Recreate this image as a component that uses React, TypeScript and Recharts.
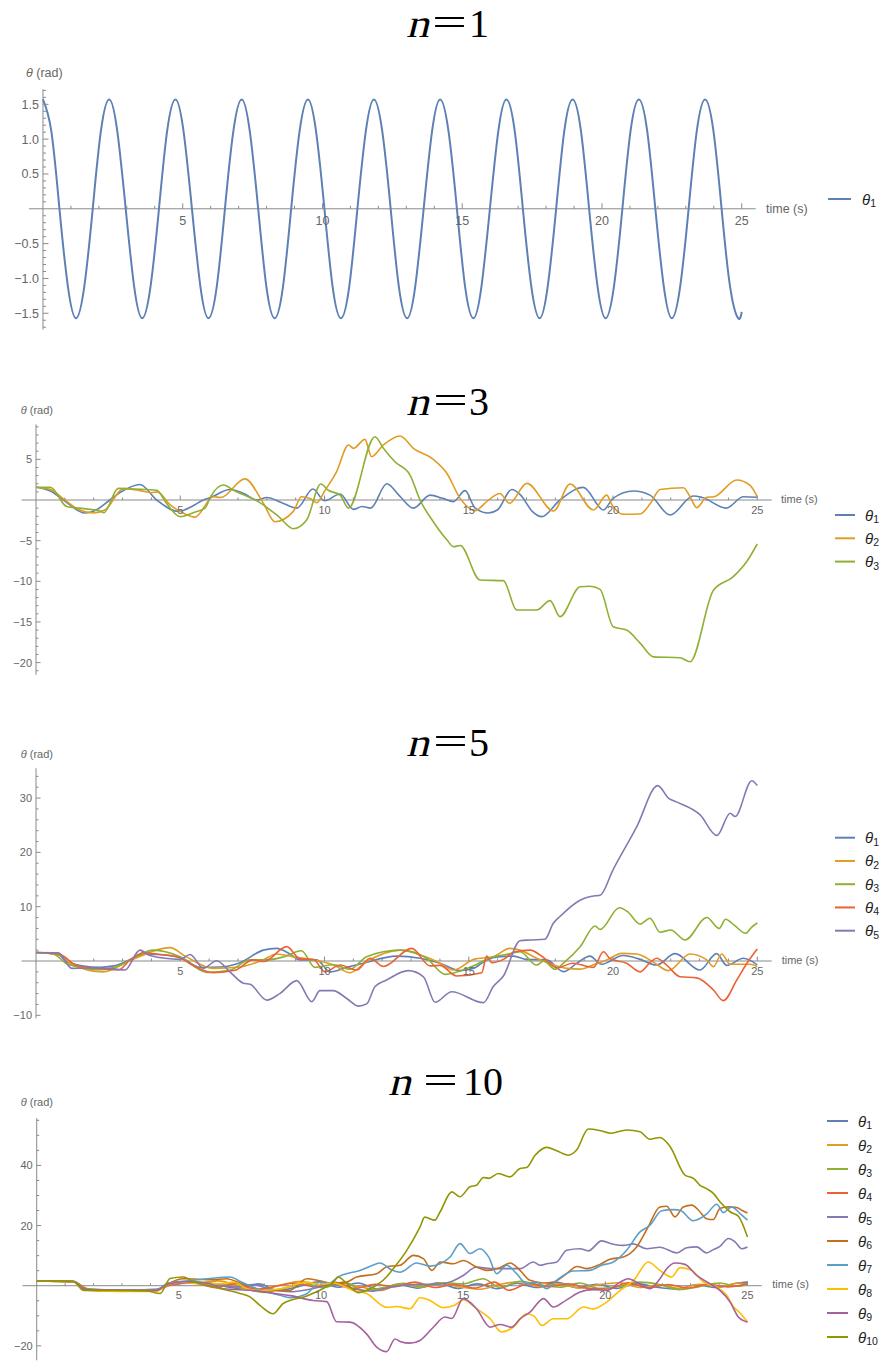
import React from "react";
import { LineChart, Line, XAxis, YAxis, ReferenceLine, ReferenceDot } from "recharts";

type Pt = [number, number];

const AXIS = "#8a8a8a";
const LABEL = "#666666";
const SANS = "'Liberation Sans', Arial, sans-serif";
const SERIF = "'Liberation Serif', 'Times New Roman', serif";

// Mathematica default plot palette
const COLORS = ["#5e81b5", "#e19c24", "#8fb032", "#eb6235", "#8778b3", "#c56e1a", "#5d9ec7", "#ffbf00", "#a5609d", "#929600"];
const SUBSCRIPTS = ["1", "2", "3", "4", "5", "6", "7", "8", "9", "10"];

const X_MAJOR = [5, 10, 15, 20, 25];
const X_MAJOR_LABELS = ["5", "10", "15", "20", "25"];

// ---- n = 1 -------------------------------------------------------------
const n1Time = [0, 0.3, 0.59, 0.89, 1.18, 1.48, 1.78, 2.07, 2.37, 2.66, 2.96, 3.26, 3.55, 3.85, 4.15, 4.44, 4.74, 5.03, 5.33, 5.63, 5.92, 6.22, 6.51, 6.81, 7.11, 7.4, 7.7, 7.99, 8.29, 8.59, 8.88, 9.18, 9.48, 9.77, 10.07, 10.36, 10.66, 10.96, 11.25, 11.55, 11.84, 12.14, 12.44, 12.73, 13.03, 13.32, 13.62, 13.92, 14.21, 14.51, 14.81, 15.1, 15.4, 15.69, 15.99, 16.29, 16.58, 16.88, 17.17, 17.47, 17.77, 18.06, 18.36, 18.65, 18.95, 19.25, 19.54, 19.84, 20.13, 20.43, 20.73, 21.02, 21.32, 21.62, 21.91, 22.21, 22.5, 22.8, 23.1, 23.39, 23.69, 23.99, 24.28, 24.58, 24.87, 25];
const n1Theta1 = [
  1.57, 1.11, 0, -1.11, -1.57, -1.11, 0, 1.11,
  1.57, 1.11, 0, -1.11, -1.57, -1.11, 0, 1.11,
  1.57, 1.11, 0, -1.11, -1.57, -1.11, 0, 1.11,
  1.57, 1.11, 0, -1.11, -1.57, -1.11, 0, 1.11,
  1.57, 1.11, 0, -1.11, -1.57, -1.11, 0, 1.11,
  1.57, 1.11, 0, -1.11, -1.57, -1.11, 0, 1.11,
  1.57, 1.11, 0, -1.11, -1.57, -1.11, 0, 1.11,
  1.57, 1.11, 0, -1.11, -1.57, -1.11, 0, 1.11,
  1.57, 1.11, 0, -1.11, -1.57, -1.11, 0, 1.11,
  1.57, 1.11, 0, -1.11, -1.57, -1.11, 0, 1.11,
  1.57, 1.11, 0, -1.11, -1.57, -1.48,
];
const n1YMajor = [-1.5, -1, -0.5, 0.5, 1, 1.5];
const n1YLabels = ["\u22121.5", "\u22121.0", "\u22120.5", "0.5", "1.0", "1.5"];

// ---- n = 3 -------------------------------------------------------------
const n3Theta1: Pt[] = [[0, 1.57], [0.5, 1.1], [0.95, 0], [1.7, -1.6], [2.1, -1.2], [2.56, 0], [3.0, 1.1], [3.6, 1.9], [4.18, 0], [4.93, -1.4], [5.4, -0.8], [5.8, 0], [6.05, 0.3], [6.72, 1.3], [7.2, 0.8], [7.65, 0], [8.0, 0.3], [8.5, -0.3], [9.04, -1.0], [9.6, 1.35], [10.0, -0.1], [10.54, 0.74], [11.0, -1.15], [11.3, -0.8], [11.6, -1.0], [12.16, 2.0], [12.6, 0.5], [13.08, -1.0], [13.66, 0.6], [14.1, 0.2], [14.47, -0.2], [14.87, 1.15], [15.22, -1.0], [15.68, -1.6], [16.0, -1.2], [16.49, 1.3], [16.8, 0.6], [17.2, -1.4], [17.53, -2.05], [18.16, 0], [18.97, 1.56], [19.67, -1.23], [20.0, 0.2], [20.71, 1.1], [21.28, 0.6], [21.98, -1.85], [22.78, 0.5], [23.1, 0.3], [23.92, -1.0], [24.52, 0.4], [25, 0.33]];
const n3Theta2: Pt[] = [[0, 1.57], [0.5, 1.3], [1.0, 0], [1.5, -1.2], [2.0, -1.6], [2.4, -1.2], [3.03, 1.4], [3.6, 1.15], [4.0, 0.9], [4.2, 1.0], [4.65, -0.6], [5.1, -1.6], [5.51, -2.1], [6.15, 0.4], [6.4, 0.3], [7.24, 2.6], [7.88, -0.4], [8.28, -2.67], [8.92, -1.4], [9.2, 0.4], [9.5, 0.2], [9.73, -0.33], [10.02, 1.2], [10.42, 3.5], [10.83, 6.77], [11.0, 6.35], [11.4, 7.46], [11.63, 5.33], [12.04, 6.77], [12.62, 7.87], [13.08, 6.35], [13.77, 5.0], [14.24, 3.3], [14.7, 0.2], [15.22, -1.3], [15.65, -0.1], [16.08, 0.8], [16.41, -0.4], [17.01, 2.05], [17.94, -1.35], [18.51, 1.97], [19.32, -1.23], [19.78, 0.6], [19.95, -0.5], [20.36, -1.76], [20.94, -1.72], [21.3, -0.4], [21.63, 1.3], [22.44, 1.5], [22.67, 0.4], [22.9, -0.94], [23.25, 0.33], [23.5, 0.4], [24.29, 2.46], [24.75, 1.8], [25, 0.4]];
const n3Theta3: Pt[] = [[0, 1.57], [0.5, 1.55], [1.06, -0.8], [1.5, -1.0], [2.22, -1.35], [2.35, -1.56], [2.85, 1.43], [3.4, 1.35], [4.18, 1.2], [4.52, -0.4], [4.99, -2.05], [5.5, -1.5], [5.86, -1.0], [6.05, 0.4], [6.49, 1.85], [6.85, 1.2], [7.76, -0.33], [8.4, -2.0], [8.92, -3.53], [9.38, -2.46], [9.87, 1.97], [10.13, 1.2], [10.54, 0.6], [10.83, -1.0], [11.75, 7.79], [12.04, 6.36], [12.44, 4.7], [12.96, 3.1], [13.31, 0], [13.77, -2.67], [14.24, -4.9], [14.47, -5.74], [14.7, -5.6], [15.39, -9.84], [16.2, -9.92], [16.66, -13.53], [17.35, -13.53], [17.82, -12.38], [18.16, -14.35], [18.86, -10.66], [19.2, -10.6], [19.55, -11], [20.01, -15.6], [20.47, -16], [20.94, -17.6], [21.4, -19.3], [22.32, -19.4], [22.67, -19.9], [23.48, -11.1], [24.17, -9.43], [24.63, -7.6], [25, -5.41]];
const n3YMajor = [-20, -15, -10, -5, 5];
const n3YLabels = ["\u221220", "\u221215", "\u221210", "\u22125", "5"];

// ---- n = 5 -------------------------------------------------------------
const n5Theta1: Pt[] = [[0, 1.57], [0.8, 1.1], [1.06, -0.2], [2.22, -1.17], [2.7, -0.9], [3.84, 1.3], [4.99, 0.7], [5.68, -1.17], [6.38, -1.1], [7.07, -0.3], [7.88, 2.0], [8.34, 2.33], [8.8, 1.3], [9.15, 0.2], [9.73, 0.2], [10.19, -2.0], [10.77, -1.17], [11.34, -0.4], [12.5, 0.9], [13.31, 0.5], [14.0, -0.4], [14.7, -1.78], [15.17, -1.35], [15.62, 0.2], [16.08, 0.8], [16.55, 0.9], [17.0, 0.3], [17.7, 0.2], [18.28, -1.96], [18.75, -0.4], [19.2, 0.9], [19.6, -0.6], [20.35, 1.0], [20.94, 0.3], [21.51, -0.74], [22.15, 1.35], [23.01, -1.66], [23.59, 1.35], [23.94, -0.8], [24.52, 0.5], [25, -0.7]];
const n5Theta2: Pt[] = [[0, 1.57], [0.8, 1.2], [1.2, -0.5], [2.33, -2.0], [3.3, 0.2], [4.64, 2.46], [5.2, 0.8], [6.15, -1.35], [7.07, -1.1], [7.88, 0.2], [8.34, 1.3], [8.9, 0.8], [9.61, 0.2], [10.3, -0.7], [10.88, -2.15], [11.46, -0.1], [12.62, 2.0], [13.43, 0.9], [14.0, -0.4], [14.47, -1.66], [15.17, 0.3], [15.85, 0.8], [16.43, 2.33], [16.78, 2.0], [17.35, 0.5], [17.93, -0.7], [18.4, -1.35], [18.86, -1.5], [19.32, -0.7], [19.78, 0.2], [20.3, 1.4], [20.82, 1.3], [21.4, -0.2], [21.92, -1.78], [22.67, 1.3], [23.25, 0.2], [23.48, -1.04], [23.77, 1.3], [24.06, -0.6], [24.75, -0.6], [25, -1.04]];
const n5Theta3: Pt[] = [[0, 1.57], [0.6, 1.3], [1.1, -0.6], [2.22, -1.6], [3.0, -0.6], [3.5, 0.9], [4.07, 2.0], [4.99, 0.8], [5.92, -2.1], [6.72, -1.7], [7.42, 0.2], [8.0, 0.2], [8.6, 0.8], [9.2, 1.9], [9.67, -1.17], [10.3, -0.7], [10.88, -1.53], [11.46, 0.8], [12.62, 2.0], [13.54, 0.5], [14.18, -2.46], [15.04, -1.17], [15.85, 0.8], [16.3, 1.2], [16.78, 1.7], [17.35, -0.74], [17.6, 0], [17.99, -1.53], [18.3, -0.3], [18.86, 2.64], [19.38, 6.45], [19.55, 5.8], [20.22, 9.8], [20.5, 9.1], [20.94, 6.8], [21.28, 7.86], [21.63, 5.3], [22.0, 5.7], [22.5, 3.87], [23.25, 8.0], [23.68, 6.0], [23.9, 7.7], [24.2, 6.6], [24.6, 5.1], [24.8, 6.2], [25, 7.0]];
const n5Theta4: Pt[] = [[0, 1.57], [0.8, 1.3], [1.4, -0.8], [2.0, -1.3], [2.85, -1.66], [3.26, 0.2], [3.72, 1.53], [4.3, 1.2], [4.88, 0.8], [5.57, -1.17], [6.15, -2.15], [6.9, -1.7], [7.53, 0.2], [7.9, -0.1], [8.69, 2.64], [9.15, 0.4], [9.61, 0.3], [10.02, -2.0], [10.54, -0.74], [11.11, -1.66], [11.58, 0.5], [12.04, -1.0], [13.02, 2.33], [13.66, -0.9], [14.0, -0.8], [14.58, -2.76], [15.45, -2.15], [15.62, 0.9], [15.8, -0.3], [16.2, 0.3], [16.6, 1.7], [17.12, 2.0], [17.6, 0.6], [18.05, -1.3], [18.6, -0.4], [19.32, -1.17], [19.67, 1.7], [19.9, 0.4], [20.47, -0.4], [20.94, -2.0], [21.3, -0.2], [21.51, 0.5], [21.86, -0.74], [22.32, -2.9], [22.9, -3.1], [23.48, -5.34], [23.82, -7.3], [24.29, -3.5], [24.63, -0.5], [25, 2.2]];
const n5Theta5: Pt[] = [[0, 1.57], [0.77, 1.53], [1.24, -1.35], [1.75, -1.3], [2.56, -1.35], [3.08, -1.66], [3.6, 2.0], [3.95, 1.0], [4.99, 0.3], [5.34, 1.2], [5.8, -1.35], [6.26, 0.06], [6.72, -2.0], [7.19, -4.1], [7.42, -4.3], [8.0, -7.2], [8.46, -5.95], [9.04, -3.62], [9.56, -7.5], [9.84, -5.46], [10.3, -5.46], [10.77, -6.9], [11.17, -8.3], [11.46, -7.9], [11.75, -4.7], [12.15, -3.5], [12.9, -1.78], [13.43, -2.9], [13.83, -7.6], [14.41, -5.65], [15.51, -7.67], [15.85, -4.7], [16.2, -2.76], [16.78, 3.74], [17.12, 3.87], [17.64, 4.0], [17.93, 6.94], [18.16, 8.2], [18.86, 11.2], [19.38, 12.0], [19.55, 12.1], [20.0, 16.8], [20.82, 24.7], [21.55, 32.3], [21.92, 30.0], [22.2, 29.3], [23.02, 26.9], [23.6, 23.1], [24.06, 27.2], [24.23, 26.6], [24.81, 33.2], [25, 32.3]];
const n5YMajor = [-10, 10, 20, 30];
const n5YLabels = ["\u221210", "10", "20", "30"];

// ---- n = 10 ------------------------------------------------------------
const n10Theta1: Pt[] = [[0, 1.57], [1.3, 1.3], [1.8, -1.2], [3.0, -1.5], [4.2, -1.2], [4.7, 0.6], [5.5, 1.4], [6.3, 0.3], [7.1, -0.9], [7.8, 0.6], [8.5, -1.6], [9.2, -0.3], [9.9, 1.3], [10.6, -0.5], [11.3, 0.9], [12.0, -1.1], [12.7, 0.4], [13.4, -0.8], [14.1, 1.0], [14.8, -0.9], [15.5, 0.6], [16.2, -1.0], [16.9, 0.8], [17.6, -0.6], [18.3, 1.1], [19.0, -0.7], [19.7, 0.5], [20.4, -0.9], [21.1, 0.7], [21.8, -0.5], [22.5, -1.1], [23.2, 0.3], [23.9, -0.6], [24.6, 0.8], [25, 1.2]];
const n10Theta2: Pt[] = [[0, 1.57], [1.3, 1.2], [1.8, -1.4], [3.0, -1.8], [4.2, -1.4], [4.7, 0.9], [5.5, 0.8], [6.4, 1.6], [7.2, -0.5], [7.9, -1.4], [8.6, 0.3], [9.3, 1.5], [10.0, -0.6], [10.7, 0.8], [11.4, -0.4], [12.1, -1.6], [12.8, 0.6], [13.5, -0.5], [14.2, 0.9], [14.9, -0.4], [15.6, -1.2], [16.3, 0.5], [17.0, 1.3], [17.7, -0.3], [18.4, 0.6], [19.1, -0.8], [19.8, 0.4], [20.5, 1.0], [21.2, -0.6], [21.9, 0.3], [22.6, -0.9], [23.3, 0.5], [24.0, -0.4], [24.7, 0.9], [25, 0.4]];
const n10Theta3: Pt[] = [[0, 1.57], [1.3, 1.3], [1.8, -1.0], [3.0, -1.4], [4.2, -1.3], [4.7, 0.4], [5.6, 1.1], [6.5, 0.5], [7.3, -1.0], [8.0, -2.2], [8.7, -0.8], [9.4, 0.5], [10.1, -0.5], [10.8, 1.2], [11.5, -1.6], [12.2, -0.6], [12.9, 0.8], [13.6, -0.4], [14.3, 1.0], [15.0, 0.6], [15.7, 2.3], [16.3, -0.6], [17.0, 1.5], [17.7, 0.3], [18.4, -0.5], [19.1, 0.9], [19.8, -0.9], [20.5, -0.2], [21.2, 1.2], [21.9, 0.4], [22.6, -1.3], [23.3, -0.3], [24.0, 0.9], [24.7, -0.2], [25, 0.6]];
const n10Theta4: Pt[] = [[0, 1.57], [1.3, 1.3], [1.8, -1.3], [3.0, -1.6], [4.2, -1.5], [4.7, 0.2], [5.5, 0.9], [6.3, -0.6], [7.0, 0.7], [7.7, -1.2], [8.4, -0.2], [9.1, 0.9], [9.8, -0.4], [10.5, 1.1], [11.2, -0.9], [11.9, 0.5], [12.6, -0.3], [13.3, 1.2], [14.0, -0.6], [14.7, 0.4], [15.4, -0.8], [16.1, 1.2], [16.6, -1.5], [17.3, 0.7], [18.0, -0.3], [18.7, 0.6], [19.4, -0.9], [20.1, -1.1], [20.8, 1.0], [21.5, -0.7], [22.2, 0.4], [22.9, -0.8], [23.6, 0.5], [24.3, -0.4], [25, 0.7]];
const n10Theta5: Pt[] = [[0, 1.57], [1.3, 1.4], [1.7, -1.3], [3.0, -1.6], [4.2, -1.5], [4.6, 0.4], [5.3, 1.0], [6.2, 0.4], [7.0, -0.4], [7.6, 0.4], [8.2, -1.2], [8.9, -2.0], [9.7, -1.0], [10.4, 0.4], [11.1, -1.0], [11.8, -1.8], [12.5, -0.4], [13.4, 0.5], [14.19, 0.5], [14.54, 1.2], [15.0, 3.4], [15.47, 6.2], [15.95, 5.67], [16.53, 5.67], [17.0, 5.67], [17.47, 7.9], [17.7, 6.8], [17.94, 7.3], [18.29, 7.9], [18.64, 11.8], [19.11, 12.3], [19.4, 11.6], [19.87, 14.9], [20.28, 13.8], [20.63, 13.4], [20.98, 13.9], [21.45, 12.3], [21.92, 12.8], [22.51, 10.9], [22.86, 12.6], [23.21, 12.9], [23.56, 10.9], [23.8, 12.0], [24.03, 13.1], [24.33, 15.7], [24.56, 14.6], [24.8, 12.3], [25, 12.9]];
const n10Theta6: Pt[] = [[0, 1.57], [1.3, 1.4], [1.7, -1.5], [3.0, -1.7], [4.2, -1.7], [4.6, 0.6], [5.16, 2.33], [6.2, 2.0], [6.68, 2.33], [7.15, 0.9], [8.09, -1.56], [8.9, -1.56], [9.5, 2.33], [9.96, 1.6], [10.43, 0.7], [10.9, 1.2], [11.25, 2.9], [11.96, 4.0], [12.31, 6.3], [12.78, 6.8], [13.25, 10.1], [13.6, 9.0], [13.9, 5.1], [14.19, 7.9], [14.66, 7.3], [15.0, 8.4], [15.47, 6.2], [15.83, 5.1], [16.3, 6.0], [16.65, 7.55], [17.0, 5.1], [17.35, 1.8], [17.83, 0.9], [18.17, 1.2], [18.64, 4.0], [19.0, 6.4], [19.34, 5.67], [19.81, 7.1], [20.16, 8.8], [20.63, 9.55], [21.1, 12.9], [21.51, 19.6], [21.92, 26.2], [22.16, 26.4], [22.45, 22.9], [22.74, 26.2], [23.04, 26.8], [23.28, 25.1], [23.56, 22.3], [23.8, 22.0], [24.03, 25.7], [24.33, 26.2], [24.62, 26.0], [24.8, 25.1], [25, 24.2]];
const n10Theta7: Pt[] = [[0, 1.57], [1.3, 1.4], [1.7, -1.3], [3.0, -1.5], [4.2, -1.6], [4.6, 0.8], [5.5, 1.8], [6.1, 2.4], [6.8, 2.9], [7.2, 1.2], [7.9, -1.56], [8.56, -3.2], [8.9, -4.0], [9.5, -2.67], [9.96, 1.2], [10.3, 0.9], [10.6, 2.9], [11.37, 5.1], [11.84, 6.9], [12.07, 7.55], [12.5, 5.2], [12.78, 4.5], [13.36, 7.55], [13.83, 6.5], [14.19, 7.3], [14.54, 9.55], [14.89, 14.0], [15.24, 10.7], [15.59, 12.3], [15.9, 9.5], [16.18, 4.0], [16.53, 6.8], [16.88, 4.0], [17.23, 0.67], [17.59, 1.2], [17.94, -1.0], [18.29, 1.8], [18.87, 4.9], [19.46, 5.1], [19.87, 6.8], [20.28, 7.9], [20.75, 11.8], [21.22, 17.9], [21.57, 20.1], [21.98, 24.9], [22.39, 25.3], [22.63, 25.1], [23.09, 21.6], [23.56, 23.8], [23.92, 27.1], [24.15, 24.3], [24.44, 26.2], [24.74, 24.0], [25, 21.8]];
const n10Theta8: Pt[] = [[0, 1.57], [1.3, 1.3], [1.7, -1.4], [3.0, -1.9], [4.2, -1.9], [4.6, 0.3], [5.0, 1.2], [5.8, 0.6], [6.5, 0.7], [6.92, 1.2], [7.4, -1.0], [7.85, -1.6], [8.6, -1.0], [9.5, 1.2], [9.96, 0.4], [10.43, 0.9], [11.13, -1.56], [11.6, -2.6], [12.31, -7.2], [12.66, -6.9], [13.13, -7.67], [13.48, -4.0], [13.83, -4.9], [14.3, -7.3], [14.7, -6.5], [15.0, -4.67], [15.47, -7.67], [15.95, -11], [16.35, -15.4], [16.76, -13.8], [17.23, -9.33], [17.5, -10.2], [17.77, -13.2], [18.17, -11], [18.64, -11], [19.23, -7.1], [19.58, -7.7], [20.05, -5.44], [20.52, -1.56], [21.0, 1.8], [21.51, 7.9], [21.92, 5.1], [22.33, 2.9], [22.63, 6.0], [23.04, 5.1], [23.45, 1.2], [23.92, -0.44], [24.27, -3.2], [24.5, -6.9], [24.74, -9.1], [25, -12.1]];
const n10Theta9: Pt[] = [[0, 1.57], [1.3, 1.4], [1.7, -1.3], [3.0, -1.5], [4.2, -1.6], [4.6, 0.5], [5.2, 1.3], [6.0, 0.8], [6.56, -1.0], [7.6, -1.6], [8.44, -2.67], [8.91, -3.3], [9.73, -4.9], [10.2, -5.3], [10.55, -12.0], [11.02, -12.1], [11.6, -16], [11.96, -20.4], [12.31, -21.9], [12.6, -17.7], [12.8, -18.6], [13.13, -19.1], [13.48, -18.2], [13.95, -13.8], [14.36, -10.4], [14.6, -10.9], [15.0, -4.3], [15.47, -7.67], [15.95, -13.8], [16.3, -12.9], [16.7, -13.8], [17.0, -11], [17.35, -8.8], [17.83, -4.3], [18.17, -7.1], [18.64, -4.7], [19.11, -2.1], [19.58, -1.3], [20.05, -1.6], [20.52, 1.2], [20.81, 2.33], [21.16, 0.9], [21.57, -1.0], [21.92, 2.33], [22.16, 5.67], [22.45, 7.55], [22.8, 7.1], [23.21, 3.4], [23.68, 0.67], [24.03, -1.56], [24.39, -5.44], [24.68, -10.4], [25, -12.1]];
const n10Theta10: Pt[] = [[0, 1.57], [1.29, 1.5], [1.64, -1.56], [2.5, -1.6], [3.87, -1.78], [4.34, -2.6], [4.69, 2.4], [5.16, 2.9], [5.55, 1.2], [6.2, -0.4], [7.15, -2.6], [7.5, -3.7], [7.85, -6.5], [8.32, -9.3], [8.67, -5.9], [9.5, -3.4], [10.14, -0.6], [10.43, 1.1], [10.6, 2.9], [10.9, 0.8], [11.31, -2.3], [11.72, -1.0], [12.31, 3.0], [12.5, 5.2], [13.0, 11.5], [13.48, 19.5], [13.65, 22.8], [14.0, 21.8], [14.19, 24.6], [14.6, 31.2], [14.89, 29.6], [15.24, 32.9], [15.47, 33.4], [15.71, 36], [15.9, 35.7], [16.24, 37.3], [16.65, 36.2], [17.0, 39], [17.23, 39.3], [17.53, 43.4], [17.94, 46], [18.29, 44.9], [18.7, 43.4], [18.99, 45.1], [19.4, 52.1], [19.81, 51.6], [20.2, 50.7], [20.75, 51.8], [21.22, 51.2], [21.57, 48.7], [21.92, 49.3], [22.27, 46.4], [22.8, 36.8], [23.1, 35.7], [23.33, 33.4], [23.56, 32.3], [23.8, 30.7], [24.03, 27.9], [24.39, 24.6], [24.68, 23.1], [25, 16.2]];
const n10YMajor = [-20, 20, 40];
const n10YLabels = ["\u221220", "20", "40"];

// ------------------------------------------------------------------------
function range(a: number, b: number, step: number) {
  const out: number[] = [];
  for (let v = a; v <= b + 1e-9; v += step) out.push(Math.round(v * 1000) / 1000);
  return out;
}
const minorOf = (all: number[], major: number[]) =>
  all.filter((v) => v !== 0 && !major.some((m) => Math.abs(m - v) < 1e-6));

const X_MINOR = minorOf(range(1, 25, 1), X_MAJOR);

type Panel = {
  title: string;
  top: number;
  height: number;
  plot: { left: number; right: number; top: number; bottom: number };
  yDomain: [number, number];
  yMajor: number[];
  yLabels: string[];
  yMinor: number[];
  font: number;
  majorLen: number;
  minorLen: number;
  xLabelDy: number;
  stroke: number;
  curve: "natural" | "monotone";
  series: Pt[][];
};

const n1Series: Pt[][] = [n1Time.map((t, i) => [t, n1Theta1[i]] as Pt)];

const PANELS: Panel[] = [
  {
    title: "1", top: 0, height: 360,
    plot: { left: 29, right: 755.7, top: 89.2, bottom: 329.7 },
    yDomain: [-1.736, 1.717], yMajor: n1YMajor, yLabels: n1YLabels,
    yMinor: minorOf(range(-1.7, 1.7, 0.1), n1YMajor),
    font: 12.5, majorLen: 5.5, minorLen: 3, xLabelDy: 16, stroke: 2, curve: "natural",
    series: n1Series,
  },
  {
    title: "3", top: 380, height: 320,
    plot: { left: 21.6, right: 771.7, top: 424.4, bottom: 674.8 },
    yDomain: [-21.5, 9.3], yMajor: n3YMajor, yLabels: n3YLabels,
    yMinor: minorOf(range(-21, 9, 1), n3YMajor),
    font: 11, majorLen: 4.5, minorLen: 2.5, xLabelDy: 13.5, stroke: 1.6, curve: "monotone",
    series: [n3Theta1, n3Theta2, n3Theta3],
  },
  {
    title: "5", top: 730, height: 310,
    plot: { left: 21.6, right: 771.7, top: 768.2, bottom: 1018.3 },
    yDomain: [-10.55, 35.5], yMajor: n5YMajor, yLabels: n5YLabels,
    yMinor: minorOf(range(-10, 34, 2), n5YMajor),
    font: 11, majorLen: 4.5, minorLen: 2.5, xLabelDy: 13.5, stroke: 1.6, curve: "monotone",
    series: [n5Theta1, n5Theta2, n5Theta3, n5Theta4, n5Theta5],
  },
  {
    title: "10", top: 1060, height: 301,
    plot: { left: 22.5, right: 761.7, top: 1118.2, bottom: 1360.3 },
    yDomain: [-24.8, 55.7], yMajor: n10YMajor, yLabels: n10YLabels,
    yMinor: minorOf(range(-20, 55, 5), n10YMajor),
    font: 11, majorLen: 4.5, minorLen: 2.5, xLabelDy: 13.7, stroke: 1.6, curve: "monotone",
    series: [n10Theta1, n10Theta2, n10Theta3, n10Theta4, n10Theta5, n10Theta6, n10Theta7, n10Theta8, n10Theta9, n10Theta10],
  },
];

// page-level decorations (titles, axis names, legends)
const TITLES = [
  { nX: 406, eqX: 432, numX: 469, base: 37 },
  { nX: 406, eqX: 433, numX: 469, base: 415 },
  { nX: 406, eqX: 433, numX: 469, base: 756 },
  { nX: 388, eqX: 423, numX: 463, base: 1095 },
];
const Y_NAME_POS = [
  { x: 26, y: 76.5, font: 12.5 },
  { x: 20.7, y: 413.5, font: 11 },
  { x: 20.7, y: 757.5, font: 11 },
  { x: 20.7, y: 1105.5, font: 11 },
];
const X_NAME_POS = [
  { x: 766, y: 212.5, font: 12.5 },
  { x: 781, y: 503, font: 11 },
  { x: 781.7, y: 964, font: 11 },
  { x: 772.3, y: 1288, font: 11 },
];
const LEGENDS = [
  { x1: 828, x2: 851, tx: 862, y0: 199, step: 0 },
  { x1: 835, x2: 855, tx: 865, y0: 515, step: 23.3 },
  { x1: 835, x2: 855, tx: 865, y0: 837.7, step: 23.25 },
  { x1: 827, x2: 848, tx: 858, y0: 1121, step: 24 },
];

function PanelChart({ p }: { p: Panel }) {
  const margin = {
    top: p.plot.top - p.top,
    bottom: p.top + p.height - p.plot.bottom,
    left: p.plot.left,
    right: 881 - p.plot.right,
  };
  const textStyle = { fontFamily: SANS, fontSize: p.font, fill: LABEL };
  return (
    <div style={{ position: "absolute", left: 0, top: p.top }}>
      <LineChart width={881} height={p.height} margin={margin}>
        <XAxis type="number" dataKey="t" domain={[-0.5, 25.5]} hide allowDataOverflow height={0} />
        <YAxis type="number" dataKey="v" domain={p.yDomain} hide allowDataOverflow width={0} />
        <ReferenceLine y={0} stroke={AXIS} strokeWidth={1} />
        <ReferenceLine x={0} stroke={AXIS} strokeWidth={1} />
        {X_MINOR.map((t) => (
          <ReferenceDot key={`xm${t}`} x={t} y={0} r={0} ifOverflow="visible"
            shape={(d: any) => <line x1={d.cx} y1={d.cy} x2={d.cx} y2={d.cy - p.minorLen} stroke={AXIS} />} />
        ))}
        {X_MAJOR.map((t, i) => (
          <ReferenceDot key={`xM${t}`} x={t} y={0} r={0} ifOverflow="visible"
            shape={(d: any) => (
              <g>
                <line x1={d.cx} y1={d.cy} x2={d.cx} y2={d.cy - p.majorLen} stroke={AXIS} />
                <text x={d.cx} y={d.cy + p.xLabelDy} textAnchor="middle" style={textStyle}>{X_MAJOR_LABELS[i]}</text>
              </g>
            )} />
        ))}
        {p.yMinor.map((v) => (
          <ReferenceDot key={`ym${v}`} x={0} y={v} r={0} ifOverflow="visible"
            shape={(d: any) => <line x1={d.cx} y1={d.cy} x2={d.cx + p.minorLen} y2={d.cy} stroke={AXIS} />} />
        ))}
        {p.yMajor.map((v, i) => (
          <ReferenceDot key={`yM${v}`} x={0} y={v} r={0} ifOverflow="visible"
            shape={(d: any) => (
              <g>
                <line x1={d.cx} y1={d.cy} x2={d.cx + p.majorLen} y2={d.cy} stroke={AXIS} />
                <text x={d.cx - 4} y={d.cy + p.font * 0.36} textAnchor="end" style={textStyle}>{p.yLabels[i]}</text>
              </g>
            )} />
        ))}
        {p.series.map((s, i) => (
          <Line
            key={i}
            data={s.map(([t, v]) => ({ t, v }))}
            dataKey="v"
            type={p.curve}
            stroke={COLORS[i]}
            strokeWidth={p.stroke}
            dot={false}
            activeDot={false}
            isAnimationActive={false}
          />
        ))}
      </LineChart>
    </div>
  );
}

export default function App() {
  return (
    <div style={{ position: "absolute", left: 0, top: 0, width: 881, height: 1361, background: "#fff", overflow: "hidden" }}>
      <svg width={881} height={1361} style={{ position: "absolute", left: 0, top: 0 }}>
        {PANELS.map((p, k) => {
          const t = TITLES[k];
          const yn = Y_NAME_POS[k];
          const xn = X_NAME_POS[k];
          const lg = LEGENDS[k];
          return (
            <g key={k}>
              <g fontFamily={SERIF} fontSize={40} fill="#000">
                {/* slanted roman n, closer to the TeX math italic than the font's italic */}
                <text transform={`translate(${t.nX},${t.base}) skewX(-14)`} x={0} y={0} textLength={23} lengthAdjust="spacingAndGlyphs">n</text>
                <text x={t.eqX} y={t.base - 1} textLength={35} lengthAdjust="spacingAndGlyphs">=</text>
                <text x={t.numX} y={t.base}>{p.title}</text>
              </g>
              <text x={yn.x} y={yn.y} fontFamily={SANS} fontSize={yn.font} fill={LABEL}>
                <tspan fontStyle="italic">θ</tspan> (rad)
              </text>
              <text x={xn.x} y={xn.y} fontFamily={SANS} fontSize={xn.font} fill={LABEL}>time (s)</text>
              {p.series.map((_, i) => {
                const y = lg.y0 + i * lg.step;
                return (
                  <g key={i}>
                    <line x1={lg.x1} x2={lg.x2} y1={y} y2={y} stroke={COLORS[i]} strokeWidth={2} />
                    <text x={lg.tx} y={y + 5.5} fontFamily={SANS} fontSize={15} fill="#222">
                      <tspan fontStyle="italic">θ</tspan>
                      <tspan fontSize={10.5} dy={2.5}>{SUBSCRIPTS[i]}</tspan>
                    </text>
                  </g>
                );
              })}
            </g>
          );
        })}
      </svg>
      {PANELS.map((p, k) => (
        <PanelChart key={k} p={p} />
      ))}
    </div>
  );
}
